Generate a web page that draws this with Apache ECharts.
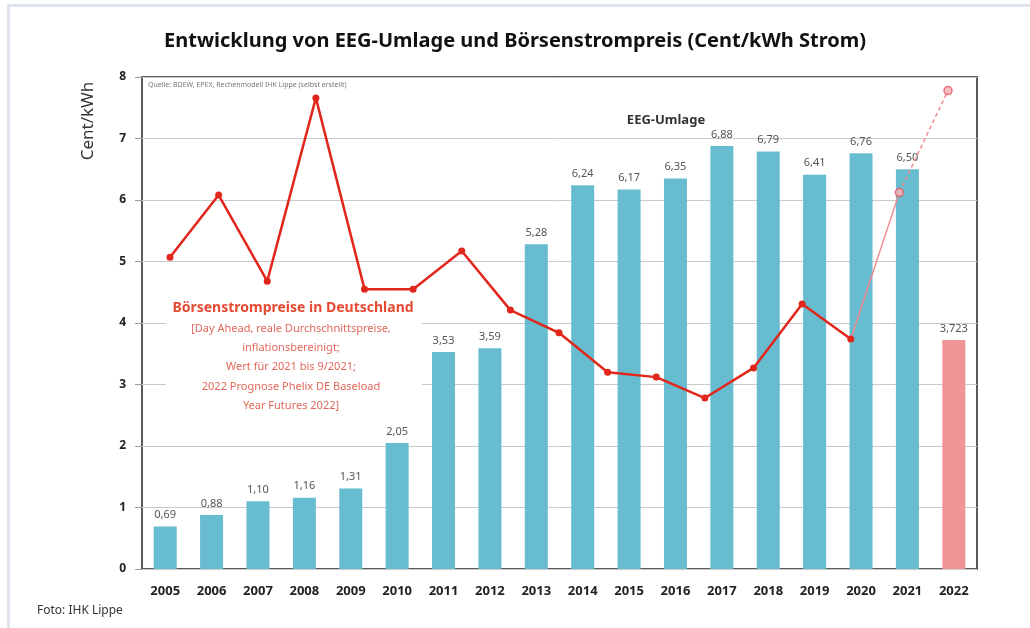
<!DOCTYPE html>
<html>
<head>
<meta charset="utf-8">
<title>EEG-Umlage und Börsenstrompreis</title>
<script src="https://cdn.jsdelivr.net/npm/echarts@6/dist/echarts.min.js"></script>
<style>
  html, body { margin: 0; padding: 0; background: #fff; }
  #frame { position: absolute; left: 7px; top: 4px; width: 1030px; height: 640px;
           border-left: 3px solid #dde4ec; border-top: 3px solid #dde4ec; }
  #chartContainer { position: absolute; left: 0; top: 0; width: 1030px; height: 628px; }
</style>
</head>
<body>
<div id="frame"></div>
<div id="chartContainer"></div>
<script>
// EEG-Umlage per year (Cent/kWh), 2022 is the announced value
var years = ['2005', '2006', '2007', '2008', '2009', '2010', '2011', '2012', '2013',
             '2014', '2015', '2016', '2017', '2018', '2019', '2020', '2021', '2022'];
var eegValues = [0.69, 0.88, 1.10, 1.16, 1.31, 2.05, 3.53, 3.59, 5.28,
                 6.24, 6.17, 6.35, 6.88, 6.79, 6.41, 6.76, 6.50, 3.723];
var forecastYear = '2022';

// Börsenstrompreis, own x positions
var priceYears = ['2005', '2006', '2007', '2008', '2009', '2010', '2011', '2012', '2013',
                  '2014', '2015', '2016', '2017', '2018', '2019', '2021', '2022'];
var priceValues = [5.07, 6.08, 4.68, 7.66, 4.55, 4.55, 5.17, 4.21, 3.84,
                   3.20, 3.12, 2.78, 3.27, 4.31, 3.74];
var price2021 = 6.12;   // bis 9/2021
var price2022 = 7.78;   // Prognose

var yTicks = [0, 1, 2, 3, 4, 5, 6, 7, 8];

var font = 'Noto Sans';
var barBlue = '#68bccf';
var barPink = '#f09597';
var red = '#e1261c';
var paleRed = '#f08c90';

var n = priceYears.length;
var solidLine = priceValues.concat(new Array(n - priceValues.length).fill(null));
var paleLine = new Array(n).fill(null);
paleLine[priceValues.length - 1] = priceValues[priceValues.length - 1];
paleLine[n - 2] = price2021;
var dashLine = new Array(n).fill(null);
dashLine[n - 2] = price2021;
dashLine[n - 1] = price2022;
var hollowPts = new Array(n).fill(null);
hollowPts[n - 2] = price2021;
hollowPts[n - 1] = price2022;

var chart = echarts.init(document.getElementById('chartContainer'));

chart.setOption({
    animation: false,
    title: {
        text: 'Entwicklung von EEG-Umlage und Börsenstrompreis (Cent/kWh Strom)',
        left: 'center',
        top: 26,
        textStyle: { fontFamily: font, fontSize: 20, fontWeight: 'bold', color: '#111' }
    },
    grid: [
        { left: 142, right: 53, top: 77, bottom: 59, show: true,
          borderColor: '#5a5a5a', borderWidth: 2, backgroundColor: 'transparent' },
        { left: 170, right: 82, top: 77, bottom: 59 }
    ],
    xAxis: [
        {
            type: 'category', gridIndex: 0, data: years,
            axisLine: { show: false }, axisTick: { show: false },
            axisLabel: { margin: 16, fontFamily: font, fontSize: 13, fontWeight: 'bold', color: '#222' }
        },
        {
            type: 'category', gridIndex: 1, data: priceYears, boundaryGap: false, show: false
        }
    ],
    yAxis: [
        {
            type: 'value', gridIndex: 0, min: yTicks[0], max: yTicks[yTicks.length - 1], interval: 1,
            axisLine: { show: false },
            axisTick: { show: true, length: 7, lineStyle: { color: '#999' } },
            axisLabel: { margin: 16, fontFamily: font, fontSize: 12, fontWeight: 'bold', color: '#222' },
            splitLine: { lineStyle: { color: '#c9c9c9', width: 1 } }
        },
        {
            type: 'value', gridIndex: 1, min: 0, max: 8, show: false, splitLine: { show: false }
        }
    ],
    series: [
        {
            name: 'EEG-Umlage', type: 'bar', xAxisIndex: 0, yAxisIndex: 0,
            barWidth: 23,
            data: eegValues.map(function (v, i) {
                return { value: v, itemStyle: { color: years[i] === forecastYear ? barPink : barBlue } };
            }),
            label: {
                show: true, position: 'top', distance: 6,
                fontFamily: font, fontSize: 11, color: '#555',
                formatter: function (p) {
                    return p.value.toLocaleString('de-DE', { minimumFractionDigits: 2 });
                }
            },
            z: 2
        },
        {
            name: 'Börsenstrompreis', type: 'line', xAxisIndex: 1, yAxisIndex: 1,
            data: solidLine, connectNulls: false,
            symbol: 'circle', symbolSize: 7,
            lineStyle: { color: red, width: 2.5 },
            itemStyle: { color: red },
            z: 5
        },
        {
            name: 'bis 9/2021', type: 'line', xAxisIndex: 1, yAxisIndex: 1,
            data: paleLine, connectNulls: true, showSymbol: false,
            lineStyle: { color: paleRed, width: 1.5 },
            z: 4
        },
        {
            name: 'Prognose 2022', type: 'line', xAxisIndex: 1, yAxisIndex: 1,
            data: dashLine, showSymbol: false,
            lineStyle: { color: paleRed, width: 1.5, type: [4, 3] },
            z: 4
        },
        {
            name: 'Prognose Punkte', type: 'scatter', xAxisIndex: 1, yAxisIndex: 1,
            data: hollowPts, symbolSize: 8,
            itemStyle: { color: '#f6b3b5', borderColor: '#e0555c', borderWidth: 1.5 },
            z: 6
        }
    ],
    graphic: [
        {
            type: 'text', x: 88, y: 121, rotation: Math.PI / 2,
            style: { text: 'Cent/kWh', fontFamily: font, fontSize: 17, fill: '#333',
                     textAlign: 'center', textVerticalAlign: 'middle' }
        },
        {
            type: 'text', x: 148, y: 81,
            style: { text: 'Quelle: BDEW, EPEX, Rechenmodell IHK Lippe (selbst erstellt)',
                     fontFamily: font, fontSize: 7, fill: '#777' }
        },
        {
            type: 'text', x: 666, y: 120,
            style: { text: 'EEG-Umlage', fontFamily: font, fontSize: 13, fontWeight: 'bold', fill: '#333',
                     textAlign: 'center', textVerticalAlign: 'middle' }
        },
        {
            type: 'rect', z: 1,
            shape: { x: 166, y: 297, width: 256, height: 118 },
            style: { fill: '#fff' }
        },
        {
            type: 'text', x: 293, y: 308, z: 10,
            style: { text: 'Börsenstrompreise in Deutschland', fontFamily: font, fontSize: 14,
                     fontWeight: 'bold', fill: '#e64a33', textAlign: 'center', textVerticalAlign: 'middle' }
        },
        {
            type: 'text', x: 291, y: 319, z: 10,
            style: {
                text: '[Day Ahead, reale Durchschnittspreise,\ninflationsbereinigt;\nWert für 2021 bis 9/2021;\n2022 Prognose Phelix DE Baseload\nYear Futures 2022]',
                fontFamily: font, fontSize: 11, lineHeight: 19.3, fill: '#e2685a',
                textAlign: 'center'
            }
        },
        {
            type: 'text', x: 37, y: 605,
            style: { text: 'Foto: IHK Lippe', fontFamily: font, fontSize: 12, fill: '#333' }
        }
    ]
});
</script>
</body>
</html>
